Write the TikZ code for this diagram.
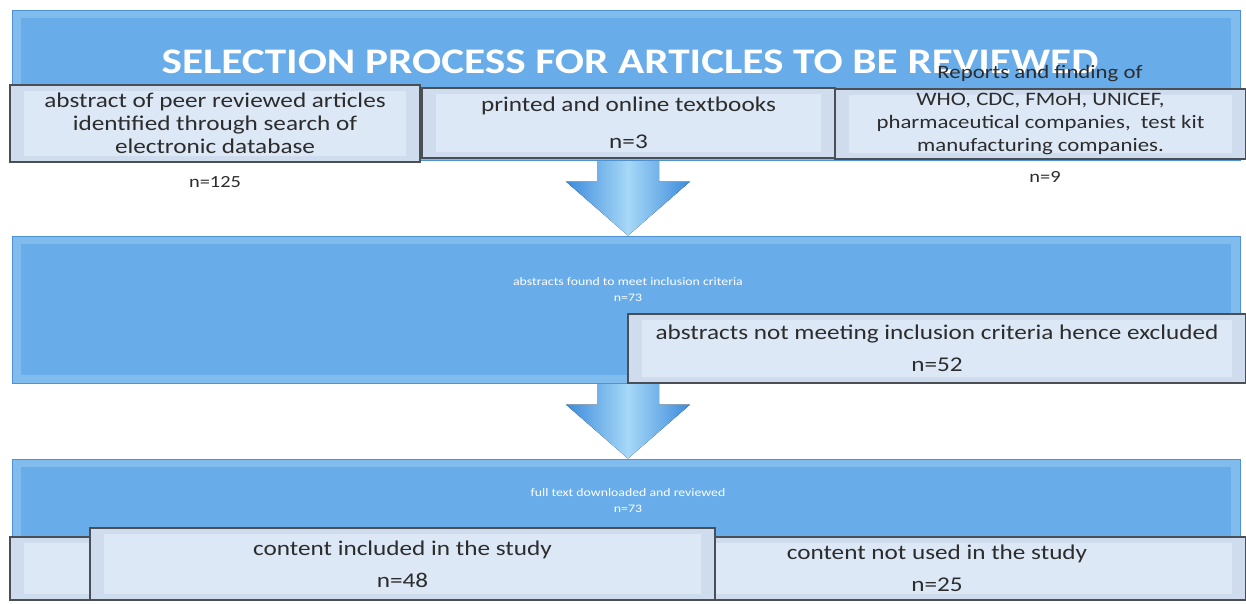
\documentclass[tikz,border=0pt]{standalone}
\usepackage{fontspec}
\setmainfont{Carlito}[FakeStretch=1.2]
\usetikzlibrary{calc}
\pgfdeclarelayer{background}
\pgfsetlayers{background,main}

\definecolor{bluebox}{HTML}{68ACE9}
\definecolor{blueedge}{HTML}{4E92D2}
\definecolor{bluerim}{HTML}{80BCEE}
\definecolor{greyfill}{HTML}{CFDCEE}
\definecolor{greyinner}{HTML}{DDE8F7}
\definecolor{greyline}{HTML}{4A4F56}
\definecolor{txt}{HTML}{2C2C2C}
\definecolor{arrowdark}{HTML}{3C8BDA}
\definecolor{arrowlight}{HTML}{A6D8F8}

\tikzset{
  bluepanel/.style={fill=bluerim, draw=blueedge, line width=0.8pt, inner sep=0pt,
    path picture={\fill[bluebox]
      ([shift={(9pt,-8pt)}]path picture bounding box.north west) rectangle
      ([shift={(-9pt,8pt)}]path picture bounding box.south east);}},
  greypanel/.style={fill=greyfill, draw=greyline, line width=1.4pt, inner sep=0pt,
    align=center, text=txt, font=\fontsize{21}{23}\selectfont,
    path picture={\fill[greyinner]
      ([shift={(14pt,-6pt)}]path picture bounding box.north west) rectangle
      ([shift={(-14pt,6pt)}]path picture bounding box.south east);}},
  smallwhite/.style={text=white, align=center, font=\fontsize{11.5}{16}\selectfont, inner sep=0pt},
  countlabel/.style={text=txt, font=\fontsize{17}{19}\selectfont, inner sep=0pt},
}

% broad downward block arrow from one panel to the next
\newcommand\blockarrow[2]{%
  \begin{pgfonlayer}{background}
  \fill[left color=arrowdark, right color=arrowdark, middle color=arrowlight]
    let \p1=(#1.south), \p2=(#2.north) in
    (628-31,\y1) -- (628+31,\y1) -- (628+31,\y2+54pt) -- (628+62,\y2+54pt)
    -- (628,\y2) -- (628-62,\y2+54pt) -- (628-31,\y2+54pt) -- cycle;
  \end{pgfonlayer}}

\begin{document}
\begin{tikzpicture}[x=1pt,y=-1pt]
\begin{pgfonlayer}{background}
  \fill[white] (0,0) rectangle (1246,603);
\end{pgfonlayer}
\useasboundingbox (0,0) rectangle (1246,603);

% top row
\node[bluepanel, minimum width=1228pt, minimum height=150pt] (top) at (626,85) {};
\node[text=white, font=\bfseries\fontsize{36}{40}\selectfont, inner sep=0pt] (title) at (630,62)
  {SELECTION PROCESS FOR ARTICLES TO BE REVIEWED};

\node[greypanel, minimum width=410pt, minimum height=77pt] (peer) at (215,123.5)
  {abstract of peer reviewed articles\\identified through search of\\electronic database};
\node[greypanel, minimum width=413pt, minimum height=70pt] (books) at (628.5,123)
  {printed and online textbooks\\[14pt]n=3};
\node[greypanel, minimum width=411pt, minimum height=70pt, font=\fontsize{19}{23}\selectfont]
  (reports) at (1040.5,124)
  {WHO, CDC, FMoH, UNICEF,\\pharmaceutical companies,~ test kit\\manufacturing companies.};
\node[text=txt, font=\fontsize{19}{21}\selectfont, inner sep=0pt] (reportshead) at (1040,74)
  {Reports and finding of};
\node[countlabel] (npeer) at (215,182) {n=125};
\node[countlabel] (nreports) at (1045,177) {n=9};

% screening
\node[bluepanel, minimum width=1228pt, minimum height=147pt] (screen) at (626,309.5) {};
\node[smallwhite] (screentext) at (628,290)
  {abstracts found to meet inclusion criteria\\n=73};
\node[greypanel, minimum width=618pt, minimum height=69pt] (excluded) at (937,348.5)
  {abstracts not meeting inclusion criteria hence excluded\\[9pt]n=52};

% full text review
\node[bluepanel, minimum width=1228pt, minimum height=86pt] (full) at (626,502) {};
\node[smallwhite] (fulltext) at (628,501)
  {full text downloaded and reviewed\\n=73};
\node[greypanel, minimum width=618pt, minimum height=63pt] (leftband) at (319,568.5) {};
\node[greypanel, minimum width=618pt, minimum height=63pt] (notused) at (937,568.5)
  {content not used in the study\\[9pt]n=25};
\node[greypanel, minimum width=625pt, minimum height=72pt] (included) at (402.5,564)
  {content included in the study\\[9pt]n=48};

\blockarrow{books}{screen}
\blockarrow{screen}{full}
\end{tikzpicture}
\end{document}
